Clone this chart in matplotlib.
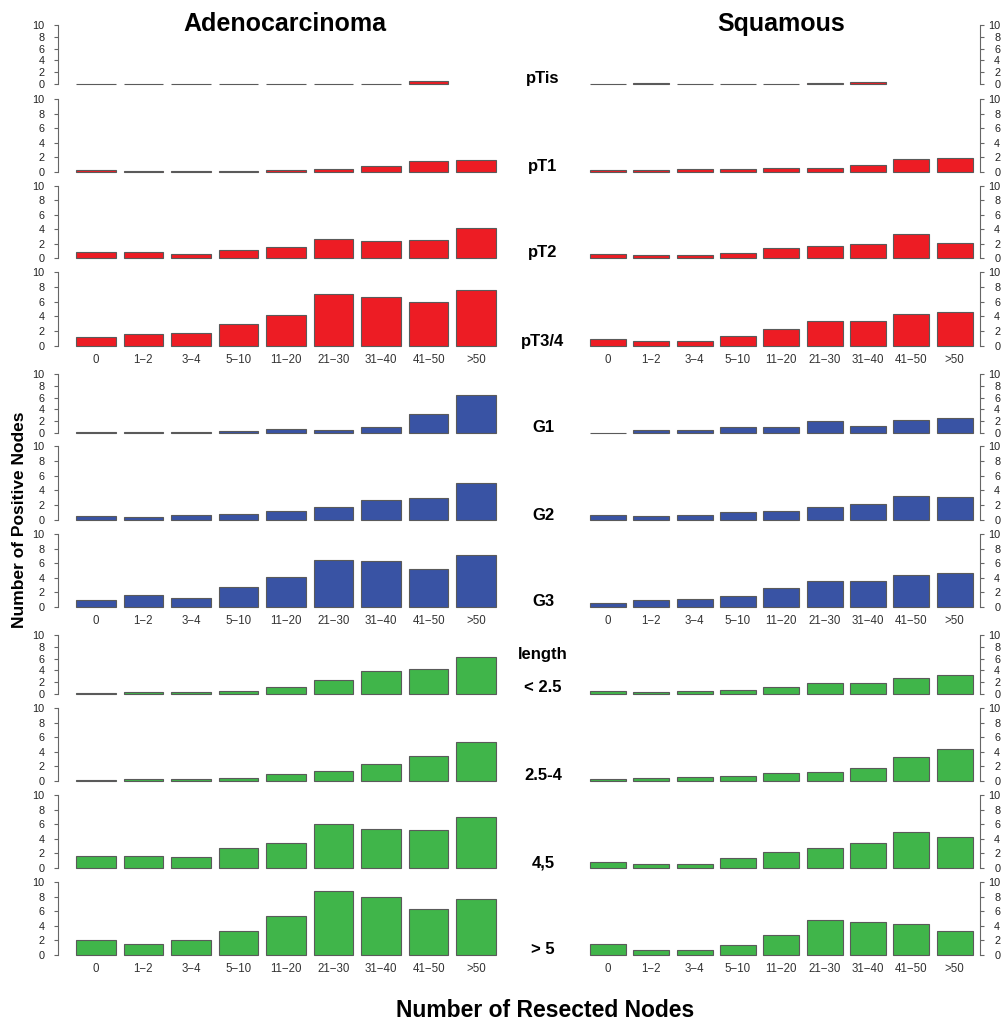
import numpy as np
import matplotlib

matplotlib.use("Agg")
import matplotlib.pyplot as plt

plt.rcParams.update({
    "font.family": ["Liberation Sans", "DejaVu Sans"],
    "font.size": 8,
})

W, H = 1003, 1025

BINS = ["0", "1\u22122", "3\u22124", "5\u221210", "11\u221220",
        "21\u221230", "31\u221240", "41\u221250", ">50"]

ROW_LABELS = ["pTis", "pT1", "pT2", "pT3/4", "G1", "G2", "G3",
              "length\n< 2.5", "2.5-4", "4,5", "> 5"]

nan = np.nan
adeno_pTis = [0.03, 0.05, 0.05, 0.05, 0.05, 0.05, 0.08, 0.45, nan]
adeno_pT1 = [0.27, 0.2, 0.15, 0.15, 0.3, 0.4, 0.78, 1.45, 1.6]
adeno_pT2 = [0.83, 0.88, 0.6, 1.06, 1.53, 2.69, 2.4, 2.55, 4.2]
adeno_pT34 = [1.22, 1.63, 1.72, 2.94, 4.16, 7.01, 6.56, 5.93, 7.6]
adeno_G1 = [0.1, 0.17, 0.17, 0.28, 0.68, 0.51, 1.02, 3.3, 6.42]
adeno_G2 = [0.5, 0.36, 0.63, 0.86, 1.17, 1.71, 2.66, 3.02, 5.0]
adeno_G3 = [0.92, 1.6, 1.24, 2.71, 4.08, 6.42, 6.24, 5.23, 7.16]
adeno_len25 = [0.17, 0.28, 0.4, 0.56, 1.13, 2.37, 3.95, 4.18, 6.27]
adeno_len254 = [0.14, 0.27, 0.23, 0.37, 0.91, 1.32, 2.33, 3.42, 5.3]
adeno_len45 = [1.61, 1.61, 1.57, 2.72, 3.46, 5.99, 5.35, 5.21, 6.96]
adeno_len5 = [2.02, 1.47, 2.06, 3.3, 5.32, 8.72, 7.94, 6.33, 7.61]

squam_pTis = [0.03, 0.1, 0.05, 0.05, 0.05, 0.25, 0.3, nan, nan]
squam_pT1 = [0.23, 0.3, 0.35, 0.35, 0.55, 0.55, 1.0, 1.83, 1.96]
squam_pT2 = [0.6, 0.42, 0.46, 0.74, 1.44, 1.62, 1.94, 3.29, 2.13]
squam_pT34 = [0.95, 0.68, 0.72, 1.36, 2.31, 3.35, 3.35, 4.34, 4.57]
squam_G1 = [0.05, 0.51, 0.57, 0.97, 1.02, 1.99, 1.14, 2.16, 2.56]
squam_G2 = [0.68, 0.59, 0.68, 1.04, 1.22, 1.76, 2.12, 3.29, 3.15]
squam_G3 = [0.55, 0.92, 1.1, 1.47, 2.66, 3.58, 3.62, 4.36, 4.59]
squam_len25 = [0.45, 0.34, 0.45, 0.62, 1.13, 1.81, 1.92, 2.66, 3.22]
squam_len254 = [0.32, 0.41, 0.5, 0.73, 1.05, 1.19, 1.78, 3.33, 4.34]
squam_len45 = [0.78, 0.6, 0.6, 1.34, 2.17, 2.76, 3.36, 4.88, 4.19]
squam_len5 = [1.47, 0.69, 0.73, 1.33, 2.75, 4.86, 4.5, 4.31, 3.26]

ADENO = [adeno_pTis, adeno_pT1, adeno_pT2, adeno_pT34, adeno_G1, adeno_G2,
         adeno_G3, adeno_len25, adeno_len254, adeno_len45, adeno_len5]
SQUAM = [squam_pTis, squam_pT1, squam_pT2, squam_pT34, squam_G1, squam_G2,
         squam_G3, squam_len25, squam_len254, squam_len45, squam_len5]

RED, BLUE, GREEN = "#ED1C24", "#3953A4", "#40B54A"
ROW_COLORS = [RED] * 4 + [BLUE] * 3 + [GREEN] * 4
TICK_ROWS = {3, 6, 10}

# pixel rows: (y of 10, y of 0)
ROW_PX = [(25, 84), (99, 172), (186, 258), (272, 346), (374, 433),
          (446, 520), (534, 607), (635, 694), (708, 781), (795, 868),
          (882, 955)]

# bar layout like R barplot: width 1, space 0.2
x = 0.7 + 1.2 * np.arange(len(BINS))
XLIM_L = (-0.242, 11.242)
XLIM_R = (-0.242, 11.0)
COLS = [(58.5, 513.5, XLIM_L, "left"), (574.0, 980.0, XLIM_R, "right")]

fig = plt.figure(figsize=(W / 100, H / 100), dpi=100)


def draw(ax, vals, color, side, xlim, show_ticks):
    v = np.asarray(vals, dtype=float)
    ok = ~np.isnan(v)
    ax.bar(x[ok], v[ok], width=1.0, color=color, edgecolor="#5a5a5a",
           linewidth=0.8, clip_on=False)
    ax.set_xlim(*xlim)
    ax.set_ylim(0, 10)
    for s in ["top", "bottom", "left", "right"]:
        ax.spines[s].set_visible(False)
    ax.spines[side].set_visible(True)
    ax.spines[side].set_color("#666666")
    ax.spines[side].set_linewidth(0.8)
    ax.spines[side].set_bounds(0, 10)
    ax.set_yticks([0, 2, 4, 6, 8, 10])
    if side == "right":
        ax.yaxis.tick_right()
        ax.tick_params(axis="y", pad=11.5)
        for lab in ax.get_yticklabels():
            lab.set_horizontalalignment("right")
    else:
        ax.tick_params(axis="y", pad=7)
    ax.tick_params(axis="y", length=3, width=0.8, color="#666666",
                   labelsize=7.8, labelcolor="#222222")
    if show_ticks:
        ax.set_xticks(x)
        ax.set_xticklabels(BINS)
        ax.tick_params(axis="x", length=0, pad=5.5, labelsize=8.3,
                       labelcolor="#333333")
    else:
        ax.set_xticks([])
    ax.patch.set_alpha(0)


for i in range(len(ROW_PX)):
    y10, y0 = ROW_PX[i]
    for (xl, xr, xlim, side), data in zip(COLS, [ADENO, SQUAM]):
        ax = fig.add_axes([xl / W, 1 - y0 / H, (xr - xl) / W, (y0 - y10) / H])
        draw(ax, data[i], ROW_COLORS[i], side, xlim, i in TICK_ROWS)

# centre labels
for i, lab in enumerate(ROW_LABELS):
    y0 = ROW_PX[i][1]
    if "\n" in lab:
        top, bot = lab.split("\n")
        fig.text(543 / W, 1 - 654 / H, top, ha="center", va="center",
                 fontsize=12, fontweight="bold")
        fig.text(543 / W, 1 - (y0 - 6) / H, bot, ha="center", va="center",
                 fontsize=12, fontweight="bold")
    else:
        fig.text(543 / W, 1 - (y0 - 5) / H, lab, ha="center", va="center",
                 fontsize=12, fontweight="bold")

fig.text(285 / W, 1 - 31 / H, "Adenocarcinoma", ha="center", va="baseline",
         fontsize=18, fontweight="bold")
fig.text(781 / W, 1 - 31 / H, "Squamous", ha="center", va="baseline",
         fontsize=18, fontweight="bold")
fig.text(20 / W, 1 - 520 / H, "Number of Positive Nodes", rotation=90,
         ha="center", va="center", fontsize=12.5, fontweight="bold")
fig.text(545 / W, 1 - 1017 / H, "Number of Resected Nodes", ha="center",
         va="baseline", fontsize=16.5, fontweight="bold")

fig.savefig("out.png", dpi=100)
